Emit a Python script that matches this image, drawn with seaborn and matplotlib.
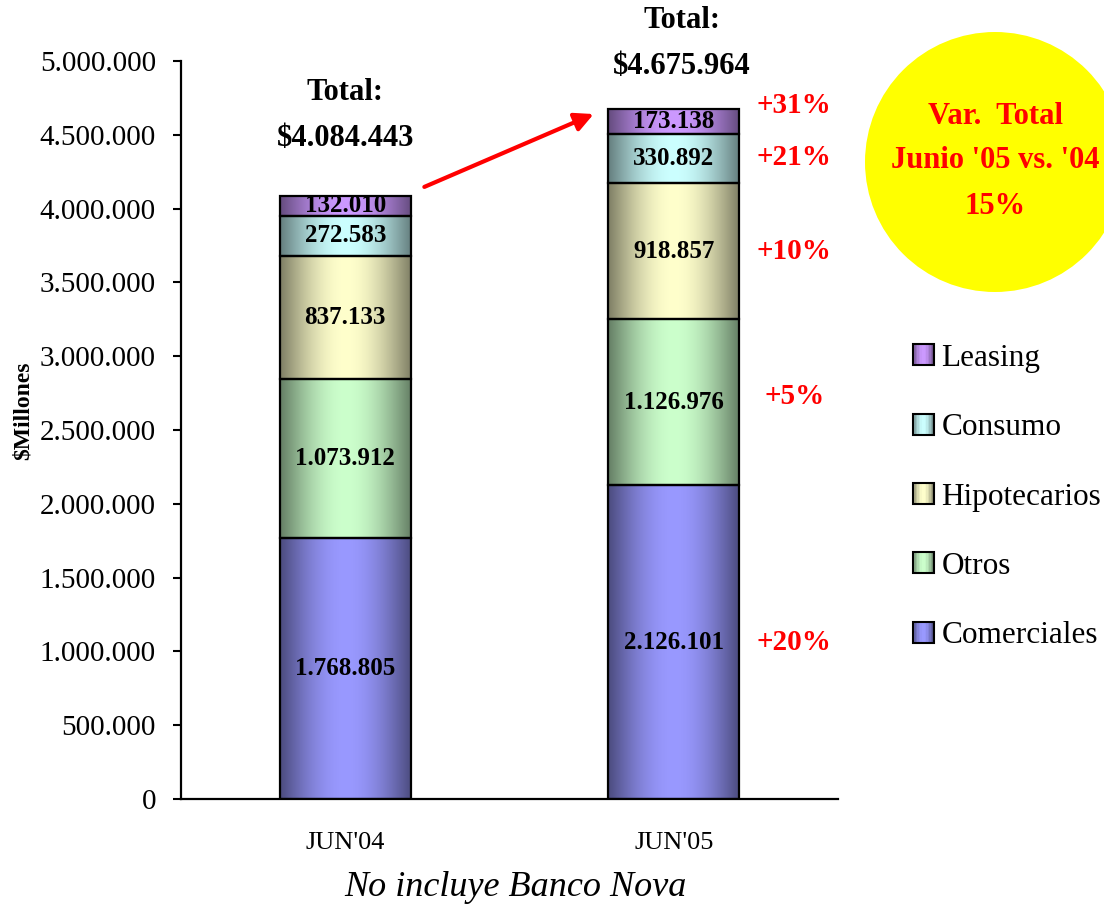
"""
Colocaciones por tipo de cartera: JUN'04 vs JUN'05 (barras apiladas con degradado).
"""

import matplotlib

matplotlib.use("Agg")
import matplotlib.colors as mcolors
import matplotlib.pyplot as plt
import numpy as np
import pandas as pd
import seaborn as sns
from matplotlib.legend_handler import HandlerBase
from matplotlib.patches import Ellipse, Rectangle
from matplotlib.ticker import FuncFormatter, MultipleLocator

# Data
periods = ["JUN'04", "JUN'05"]
segments = ["Comerciales", "Otros", "Hipotecarios", "Consumo", "Leasing"]
comerciales = [1768805, 2126101]
otros = [1073912, 1126976]
hipotecarios = [837133, 918857]
consumo = [272583, 330892]
leasing = [132010, 173138]
variacion = ["+20%", "+5%", "+10%", "+21%", "+31%"]
var_total = "15%"

center_colors = {
    "Comerciales": "#9999FF",
    "Otros": "#CCFFCC",
    "Hipotecarios": "#FFFFCC",
    "Consumo": "#CCFFFF",
    "Leasing": "#CC99FF",
}

df = pd.DataFrame(
    {
        "periodo": periods,
        "Comerciales": comerciales,
        "Otros": otros,
        "Hipotecarios": hipotecarios,
        "Consumo": consumo,
        "Leasing": leasing,
    }
)


def fmt_miles(v, pos=None):
    return f"{int(round(v)):,}".replace(",", ".")


def shade(t):
    # dark at both edges, light in the middle (Excel style gradient)
    return 0.5 + 0.5 * np.sin(np.pi * t)


def gradient_image(color, n=64):
    base = np.array(mcolors.to_rgb(color))
    t = np.linspace(0, 1, n)
    return np.clip(shade(t)[:, None] * base, 0, 1)[None, :, :]


class GradientHandler(HandlerBase):
    def create_artists(self, legend, orig_handle, xdescent, ydescent, width, height, fontsize, trans):
        base = np.array(mcolors.to_rgb(orig_handle.get_facecolor()))
        n = 14
        arts = []
        for i in range(n):
            c = np.clip(shade((i + 0.5) / n) * base, 0, 1)
            arts.append(
                Rectangle((-xdescent + i * width / n, -ydescent), width / n + 0.3, height,
                          facecolor=c, lw=0, transform=trans)
            )
        arts.append(
            Rectangle((-xdescent, -ydescent), width, height, fill=False,
                      edgecolor="black", lw=1.5, transform=trans)
        )
        return arts


sns.set_style("white")
plt.rcParams["font.family"] = ["Liberation Serif", "DejaVu Serif"]
plt.rcParams["text.color"] = "black"
plt.rcParams["xtick.color"] = "black"
plt.rcParams["ytick.color"] = "black"
plt.rcParams["xtick.labelcolor"] = "black"
plt.rcParams["ytick.labelcolor"] = "black"

fig = plt.figure(figsize=(11.04, 9.09), dpi=100)
ax = fig.add_axes([181 / 1104, 110 / 909, 657 / 1104, 738 / 909])

bar_width = 0.4
bottom = np.zeros(len(periods))
for seg in segments:
    vals = df[seg].to_numpy()
    n0 = len(ax.patches)
    sns.barplot(
        x=df["periodo"], y=vals, bottom=bottom, color=center_colors[seg],
        width=bar_width, edgecolor="black", linewidth=1.6, ax=ax, zorder=3,
    )
    for p, v in zip(ax.patches[n0:], vals):
        x0, y0, w, h = p.get_x(), p.get_y(), p.get_width(), p.get_height()
        ax.imshow(gradient_image(center_colors[seg]), extent=[x0, x0 + w, y0, y0 + h],
                  aspect="auto", interpolation="bilinear", zorder=2)
        p.set_facecolor("none")
        t = ax.text(x0 + w / 2, y0 + h / 2, fmt_miles(v), ha="center", va="center",
                    fontsize=18, fontweight="bold", color="black", zorder=4, clip_on=True)
        t.set_clip_path(p)
    bottom = bottom + vals

totals = bottom

# variation labels next to the JUN'05 bar
mids = np.cumsum(df[segments].iloc[1].to_numpy()) - df[segments].iloc[1].to_numpy() / 2
pct_shift = [0, 40000, 0, 10000, 110000]
for m, lab, s in zip(mids, variacion, pct_shift):
    ax.text(1.367, m + s, lab, ha="center", va="center", fontsize=21,
            fontweight="bold", color="red", clip_on=False)

# totals above the bars
total_offsets = [(0.0, 700000, 390000), (0.025, 600000, 285000)]
for i, (tot, (dx, o1, o2)) in enumerate(zip(totals, total_offsets)):
    ax.text(i + dx, tot + o1, "Total:", ha="center", va="center", fontsize=22,
            fontweight="bold", color="black", clip_on=False)
    ax.text(i + dx, tot + o2, r"\$" + fmt_miles(tot), ha="center", va="center",
            fontsize=22, fontweight="bold", color="black", clip_on=False)

# arrow between totals
ax.annotate(
    "", xy=(1 - bar_width / 2 - 0.036, totals[1] - 28000),
    xytext=(bar_width / 2 + 0.033, totals[0] + 55000),
    arrowprops=dict(arrowstyle="-|>", color="red", lw=3, mutation_scale=28),
    annotation_clip=False,
)

# axes styling
ax.set_xlim(-0.5, 1.5)
ax.set_ylim(0, 5000000)
ax.yaxis.set_major_locator(MultipleLocator(500000))
ax.yaxis.set_major_formatter(FuncFormatter(fmt_miles))
ax.set_xticks([0, 1])
ax.set_xticklabels(periods)
ax.set_xticks([-0.5, 0.5, 1.5], minor=True)
ax.tick_params(axis="x", which="major", length=0, pad=24, labelsize=19, labelcolor="black")
ax.tick_params(axis="x", which="minor", length=6, width=1.5, direction="out", color="black")
ax.tick_params(axis="y", which="major", length=6, width=1.5, direction="out", pad=12,
               labelsize=21, left=True, color="black", labelcolor="black")
ax.set_xlabel("")
ax.set_ylabel("")
for side in ["top", "right"]:
    ax.spines[side].set_visible(False)
for side in ["left", "bottom"]:
    ax.spines[side].set_color("black")
    ax.spines[side].set_linewidth(1.6)

fig.text(23 / 1104, 1 - 411 / 909, r"\$Millones", rotation=90, ha="center", va="center",
         fontsize=17, fontweight="bold", color="black")
fig.text(515 / 1104, 1 - 888 / 909, "No incluye Banco Nova", ha="center", va="center",
         fontsize=26, style="italic", color="black")

# legend
handles = [Rectangle((0, 0), 1, 1, facecolor=center_colors[s]) for s in segments[::-1]]
leg = fig.legend(
    handles, segments[::-1], handler_map={Rectangle: GradientHandler()},
    loc="center left", bbox_to_anchor=(913 / 1104, 1 - 497 / 909), frameon=False,
    fontsize=22.5, handlelength=0.66, handleheight=0.66, handletextpad=0.25,
    labelspacing=1.29, borderpad=0, borderaxespad=0,
)
for txt in leg.get_texts():
    txt.set_color("black")

# yellow circle with total variation
fig.add_artist(Ellipse((995 / 1104, 1 - 162 / 909), 260 / 1104, 260 / 909,
                       transform=fig.transFigure, facecolor="#FFFF00", edgecolor="none"))
for y, line in zip([116, 160, 207], ["Var.  Total", "Junio '05 vs. '04", var_total]):
    fig.text(995 / 1104, 1 - y / 909, line, ha="center", va="center", fontsize=22,
             fontweight="bold", color="red")

fig.savefig("out.png", dpi=100)
